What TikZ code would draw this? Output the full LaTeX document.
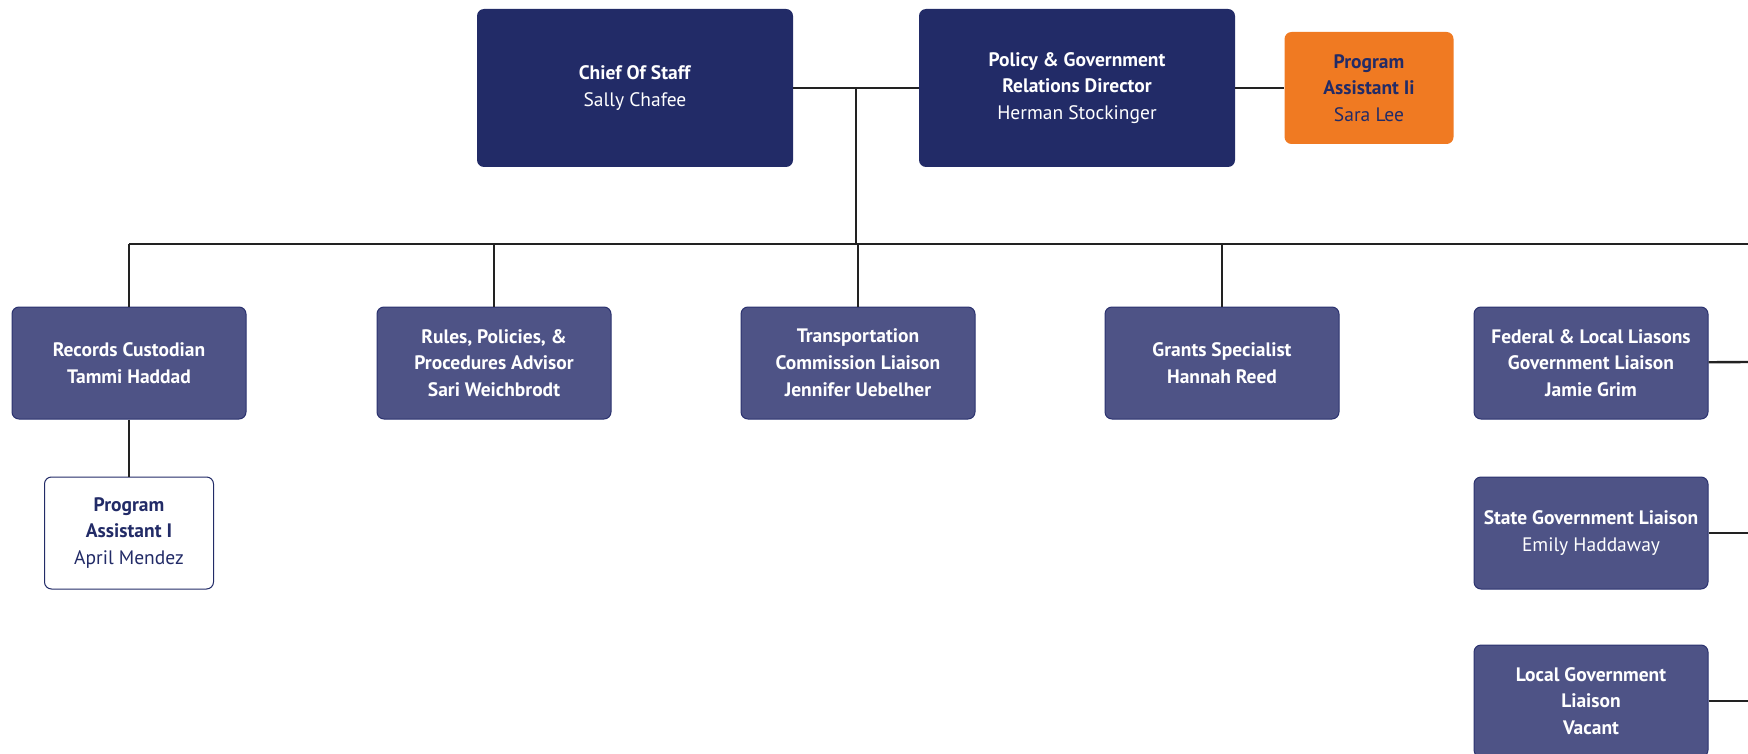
\documentclass[tikz,border=0pt]{standalone}
\usepackage{fontspec}
\setmainfont{PT Sans}
\usepackage{xcolor}
\usepackage{tikz}
\definecolor{navy}{HTML}{222B67}
\definecolor{slate}{HTML}{4E5386}
\definecolor{slateedge}{HTML}{2B326F}
\definecolor{amber}{HTML}{F07A22}
\definecolor{wire}{HTML}{222222}

\begin{document}
\begin{tikzpicture}[x=1pt,y=-1pt,
  every node/.style={align=center,inner sep=0pt,rounded corners=7pt,font=\fontsize{19.5}{26.8}\selectfont},
  head/.style={fill=navy,text=white,minimum width=316pt,minimum height=158pt},
  staff/.style={fill=slate,draw=slateedge,line width=1pt,text=white,minimum width=234pt,minimum height=112pt},
  aide/.style={minimum width=169pt,minimum height=112pt,text=navy},
  link/.style={draw=wire,line width=2.4pt}]
\useasboundingbox (0,0) rectangle (1748,754);
% top row
\node (1) at ( 635,88) [head] {\textbf{Chief Of Staff}\\Sally Chafee};
\node (2) at (1077,88) [head] {\textbf{Policy \& Government}\\\textbf{Relations Director}\\Herman Stockinger};
\node (3) at (1369,88) [aide,fill=amber] {\textbf{Program}\\\textbf{Assistant Ii}\\Sara Lee};
% second row
\node (4) at ( 129,363) [staff] {\textbf{Records Custodian}\\\textbf{Tammi Haddad}};
\node (5) at ( 494,363) [staff] {\textbf{Rules, Policies, \&}\\\textbf{Procedures Advisor}\\\textbf{Sari Weichbrodt}};
\node (6) at ( 858,363) [staff] {\textbf{Transportation}\\\textbf{Commission Liaison}\\\textbf{Jennifer Uebelher}};
\node (7) at (1222,363) [staff] {\textbf{Grants Specialist}\\\textbf{Hannah Reed}};
\node (8) at (1591,363) [staff] {\textbf{Federal \& Local Liasons}\\\textbf{Government Liaison}\\\textbf{Jamie Grim}};
% lower boxes
\node (9) at ( 129,533) [aide,fill=white,draw=navy,line width=1pt] {\textbf{Program}\\\textbf{Assistant I}\\April Mendez};
\node (10) at (1591,533) [staff] {\textbf{State Government Liaison}\\Emily Haddaway};
\node (11) at (1591,701) [staff] {\textbf{Local Government}\\\textbf{Liaison}\\\textbf{Vacant}};
\coordinate (j) at (856,88);
\coordinate (b0) at (129,244);
\coordinate (b9) at (1748,244);
\coordinate (e8) at (1748,362);
\coordinate (e10) at (1748,533);
\coordinate (e11) at (1748,701);
\draw[link] (1) -- (2);
\draw[link] (2) -- (3);
\draw[link] (j) -- (j |- b0);
\draw[link] (b0) -- (b9);
\draw[link] (4) -- (4 |- b0);
\draw[link] (5) -- (5 |- b0);
\draw[link] (6) -- (6 |- b0);
\draw[link] (7) -- (7 |- b0);
\draw[link] (4) -- (9);
\draw[link] (8) -- (e8);
\draw[link] (10) -- (e10);
\draw[link] (11) -- (e11);
\end{tikzpicture}
\end{document}
